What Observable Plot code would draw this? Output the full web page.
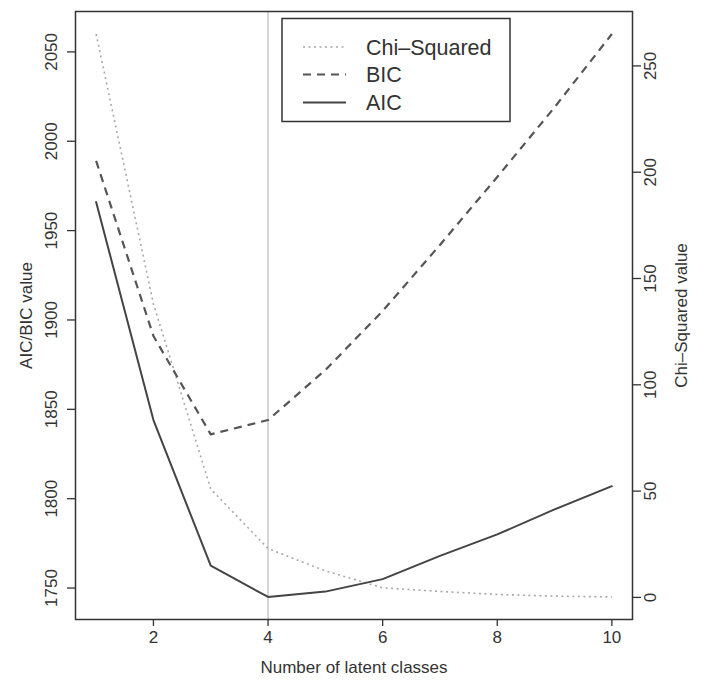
<!DOCTYPE html>
<html>
<head>
<meta charset="utf-8">
<script src="https://cdn.jsdelivr.net/npm/d3@7"></script>
<script src="https://cdn.jsdelivr.net/npm/@observablehq/plot@0.6"></script>
<style>
  html, body { margin: 0; padding: 0; background: #fff; }
  #wrap { position: relative; width: 704px; height: 685px; }
  #legend { position: absolute; left: 0; top: 0; pointer-events: none; }
</style>
</head>
<body>
<div id="wrap"></div>
<script>
// ---- data ----
const classes = [1, 2, 3, 4, 5, 6, 7, 8, 9, 10];
const aic = [1966, 1844, 1762.5, 1745, 1748, 1755, 1768, 1780, 1794, 1807];
const bic = [1989, 1891, 1836, 1844, 1872, 1905, 1942, 1980, 2019, 2060];
const chiSquared = [265, 138, 51, 23, 12.5, 4.5, 2.8, 1.4, 0.6, 0.2];
const xTicks = [2, 4, 6, 8, 10];
const leftTicks = [1750, 1800, 1850, 1900, 1950, 2000, 2050];
const rightTicks = [0, 50, 100, 150, 200, 250];
const selectedClasses = [4];
const legendLabels = ["Chi\u2013Squared", "BIC", "AIC"];
const xTitle = "Number of latent classes";
const yLeftTitle = "AIC/BIC value";
const yRightTitle = "Chi\u2013Squared value";

// R-style 4% range extension
function ext(vals) {
  const lo = d3.min(vals), hi = d3.max(vals), r = hi - lo;
  return [lo - 0.04 * r, hi + 0.04 * r];
}
const xDom = ext(classes);
const yDom = ext(aic.concat(bic));
const cDom = ext(chiSquared);
const toY = c => yDom[0] + (c - cDom[0]) / (cDom[1] - cDom[0]) * (yDom[1] - yDom[0]);

const rowsAIC = classes.map((k, i) => ({k, v: aic[i]}));
const rowsBIC = classes.map((k, i) => ({k, v: bic[i]}));
const rowsChi = classes.map((k, i) => ({k, v: toY(chiSquared[i])}));

const ink = "#333";
const font = "'Liberation Sans', Arial, sans-serif";
const chart = Plot.plot({
  width: 704,
  height: 685,
  marginLeft: 75,
  marginRight: 72,
  marginTop: 11,
  marginBottom: 66,
  x: {domain: xDom},
  y: {domain: yDom},
  style: {fontFamily: font, fontSize: "17px", color: ink, background: "#fff"},
  marks: [
    Plot.ruleX(selectedClasses, {stroke: "#c8c8c8", strokeWidth: 1.5}),
    Plot.line(rowsChi, {x: "k", y: "v", stroke: "#a8a8a8", strokeWidth: 1.6, strokeDasharray: "2,3.5", strokeLinecap: "butt"}),
    Plot.line(rowsBIC, {x: "k", y: "v", stroke: "#555", strokeWidth: 2.2, strokeDasharray: "8,6", strokeLinecap: "butt"}),
    Plot.line(rowsAIC, {x: "k", y: "v", stroke: "#444", strokeWidth: 2}),
    Plot.frame({stroke: ink, strokeWidth: 1.5}),
    Plot.axisX({ticks: xTicks, tickSize: 7, tickPadding: 4, label: null, stroke: ink, strokeWidth: 1.3, fontSize: 17}),
    Plot.axisY({anchor: "left", ticks: leftTicks, tickSize: 8, tickFormat: () => "", label: null, stroke: ink, strokeWidth: 1.3}),
    Plot.text(leftTicks, {y: d => d, text: d => String(d), frameAnchor: "left", dx: -24, rotate: -90, textAnchor: "middle", lineAnchor: "middle", fontSize: 17, fill: ink}),
    Plot.axisY({anchor: "right", ticks: rightTicks.map(toY), tickSize: 8, tickFormat: () => "", label: null, stroke: ink, strokeWidth: 1.3}),
    Plot.text(rightTicks, {y: d => toY(d), text: d => String(d), frameAnchor: "right", dx: 18, rotate: -90, textAnchor: "middle", lineAnchor: "middle", fontSize: 17, fill: ink}),
    Plot.text([yLeftTitle], {frameAnchor: "left", dx: -49, rotate: -90, textAnchor: "middle", lineAnchor: "middle", fontSize: 17, fill: ink}),
    Plot.text([yRightTitle], {frameAnchor: "right", dx: 49, rotate: -90, textAnchor: "middle", lineAnchor: "middle", fontSize: 17, fill: ink}),
    Plot.text([xTitle], {frameAnchor: "bottom", dy: 48, textAnchor: "middle", lineAnchor: "middle", fontSize: 17, fill: ink})
  ]
});
const wrap = document.getElementById("wrap");
wrap.appendChild(chart);

// legend overlay (inside plot area, top)
const dashes = ["2,3.5", "8,6", null];
const strokes = ["#a8a8a8", "#555", "#444"];
const widths = [1.6, 2.2, 2];
const ns = "http://www.w3.org/2000/svg";
const lg = document.createElementNS(ns, "svg");
lg.setAttribute("id", "legend");
lg.setAttribute("width", 704);
lg.setAttribute("height", 685);
const box = document.createElementNS(ns, "rect");
box.setAttribute("x", 282); box.setAttribute("y", 18.5);
box.setAttribute("width", 228); box.setAttribute("height", 103);
box.setAttribute("fill", "#fff"); box.setAttribute("stroke", ink); box.setAttribute("stroke-width", 1.5);
lg.appendChild(box);
const rowY = [47, 74.5, 102.5];
legendLabels.forEach((lab, i) => {
  const ln = document.createElementNS(ns, "line");
  ln.setAttribute("x1", 303); ln.setAttribute("x2", 346);
  ln.setAttribute("y1", rowY[i]); ln.setAttribute("y2", rowY[i]);
  ln.setAttribute("stroke", strokes[i]); ln.setAttribute("stroke-width", widths[i]);
  if (dashes[i]) ln.setAttribute("stroke-dasharray", dashes[i]);
  lg.appendChild(ln);
  const t = document.createElementNS(ns, "text");
  t.setAttribute("x", 366); t.setAttribute("y", rowY[i]);
  t.setAttribute("dy", "0.35em");
  t.setAttribute("font-family", font);
  t.setAttribute("font-size", 21.5);
  t.setAttribute("fill", ink);
  t.textContent = lab;
  lg.appendChild(t);
});
wrap.appendChild(lg);
</script>
</body>
</html>
